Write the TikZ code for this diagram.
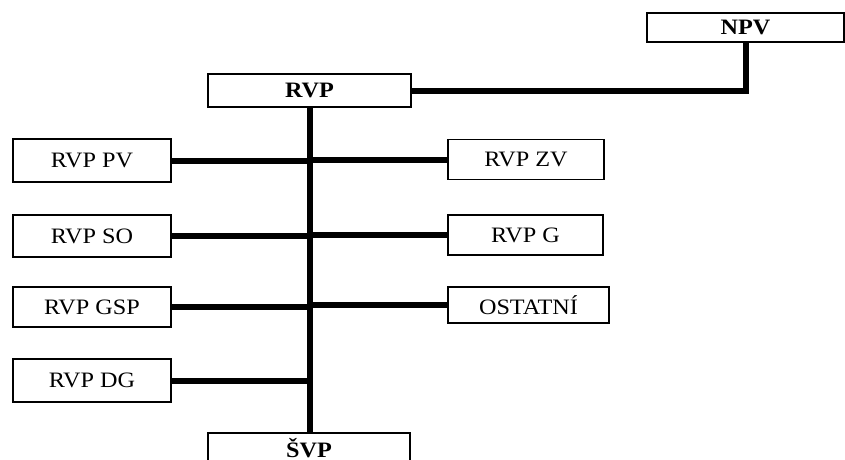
\documentclass[tikz,border=0pt]{standalone}
\usepackage{fontspec}
\setmainfont[FakeStretch=1.1]{Liberation Serif}
\begin{document}
\begin{tikzpicture}[x=1pt,y=-1pt,
  box/.style={draw, line width=1.2pt, inner sep=0pt, font=\fontsize{22}{24}\selectfont, fill=white},
  bbox/.style={box, font=\fontsize{22}{24}\selectfont\bfseries},
  link/.style={line width=6pt, line cap=butt}]
\useasboundingbox (0,0) rectangle (845,459);
\clip (0,0) rectangle (845,459);
% top nodes
\node[bbox, minimum width=197pt, minimum height=29pt] (npv) at (745.5,27.5) {NPV};
\node[bbox, minimum width=203pt, minimum height=33pt] (rvp) at (309.5,90.5) {RVP};
\node[bbox, minimum width=202pt, minimum height=38pt, text height=14pt, text depth=4pt] (svp) at (309,452) {ŠVP};
% left column
\node[box, minimum width=158pt, minimum height=43pt] (pv) at (92,160.5) {RVP PV};
\node[box, minimum width=158pt, minimum height=42pt] (so) at (92,236) {RVP SO};
\node[box, minimum width=158pt, minimum height=40pt] (gsp) at (92,307) {RVP GSP};
\node[box, minimum width=158pt, minimum height=43pt] (dg) at (92,380.5) {RVP DG};
% right column
\node[box, minimum width=156pt, minimum height=40pt] (zv) at (526,159.5) {RVP ZV};
\node[box, minimum width=155pt, minimum height=40pt] (g) at (525.5,235) {RVP G};
\node[box, minimum width=161pt, minimum height=36pt] (ost) at (528.5,305) {OSTATNÍ};
% connectors
\coordinate (sp) at (310,0);
\draw[link] (rvp.east) -| (npv.south);
\draw[link] (rvp.south -| sp) -- (svp.north -| sp);
\draw[link] (pv.east) -- (pv.east -| sp);
\draw[link] (so.east) -- (so.east -| sp);
\draw[link] (gsp.east) -- (gsp.east -| sp);
\draw[link] (dg.east) -- (dg.east -| sp);
\draw[link] (zv.west) -- (zv.west -| sp);
\draw[link] (g.west) -- (g.west -| sp);
\draw[link] (ost.west) -- (ost.west -| sp);
\end{tikzpicture}
\end{document}
